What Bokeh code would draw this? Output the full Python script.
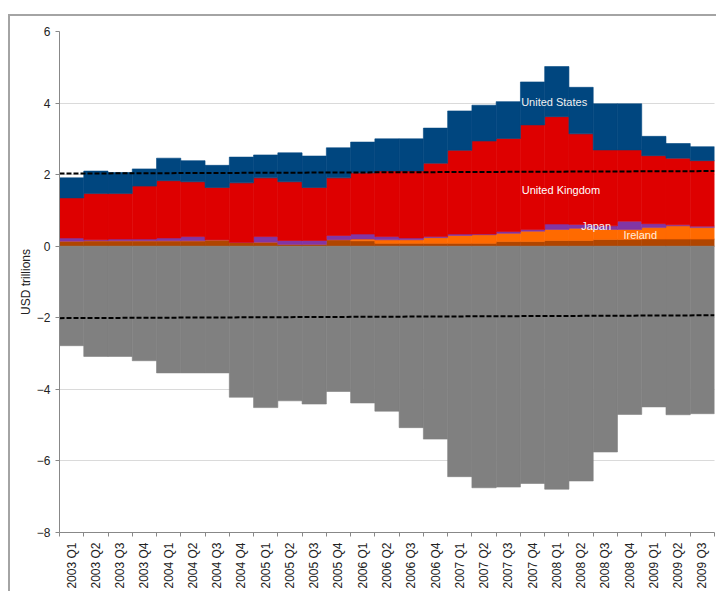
from bokeh.plotting import figure
from bokeh.models import ColumnDataSource, FixedTicker, Label, Title
from bokeh.embed import file_html
from bokeh.resources import INLINE
import math

quarters = ["2003 Q1", "2003 Q2", "2003 Q3", "2003 Q4",
            "2004 Q1", "2004 Q2", "2004 Q3", "2004 Q4",
            "2005 Q1", "2005 Q2", "2005 Q3", "2005 Q4",
            "2006 Q1", "2006 Q2", "2006 Q3", "2006 Q4",
            "2007 Q1", "2007 Q2", "2007 Q3", "2007 Q4",
            "2008 Q1", "2008 Q2", "2008 Q3", "2008 Q4",
            "2009 Q1", "2009 Q2", "2009 Q3"]

other = [0.14, 0.15, 0.15, 0.15, 0.15, 0.15, 0.17, 0.11, 0.11, 0.05, 0.05, 0.18,
         0.15, 0.08, 0.08, 0.08, 0.08, 0.08, 0.13, 0.13, 0.16, 0.16, 0.19, 0.19,
         0.20, 0.20, 0.20]
ireland = [0.00, 0.00, 0.00, 0.00, 0.00, 0.00, 0.01, 0.00, 0.00, 0.00, 0.00, 0.00,
           0.05, 0.10, 0.10, 0.16, 0.22, 0.24, 0.23, 0.29, 0.31, 0.34, 0.28, 0.28,
           0.32, 0.37, 0.32]
japan = [0.09, 0.03, 0.05, 0.05, 0.08, 0.12, 0.00, 0.00, 0.16, 0.11, 0.11, 0.12,
         0.14, 0.09, 0.05, 0.03, 0.04, 0.02, 0.05, 0.05, 0.15, 0.11, 0.10, 0.23,
         0.11, 0.03, 0.04]
uk = [1.12, 1.29, 1.27, 1.48, 1.60, 1.53, 1.46, 1.66, 1.64, 1.64, 1.48, 1.61,
      1.71, 1.83, 1.87, 2.05, 2.34, 2.60, 2.60, 2.92, 3.00, 2.53, 2.12, 1.99,
      1.90, 1.86, 1.83]
us = [0.56, 0.63, 0.59, 0.48, 0.63, 0.59, 0.62, 0.72, 0.64, 0.81, 0.88, 0.84,
      0.86, 0.90, 0.90, 0.98, 1.10, 1.00, 1.03, 1.20, 1.40, 1.30, 1.29, 1.29,
      0.54, 0.41, 0.39]
liabilities = [-2.78, -3.08, -3.08, -3.20, -3.54, -3.54, -3.54, -4.22, -4.51, -4.32,
               -4.41, -4.06, -4.38, -4.61, -5.07, -5.39, -6.44, -6.75, -6.73, -6.63,
               -6.79, -6.56, -5.75, -4.70, -4.49, -4.71, -4.68]

trend_upper = [2.03, 2.10]
trend_lower = [-2.01, -1.93]

y_ticks = [-8, -6, -4, -2, 0, 2, 4, 6]

n = len(quarters)
xs = [i + 0.5 for i in range(n)]

src = ColumnDataSource(dict(x=xs, other=other, ireland=ireland, japan=japan,
                            uk=uk, us=us, liab=liabilities))

p = figure(width=716, height=591, x_range=(0, n), y_range=(-8, 6),
           output_backend="svg", toolbar_location=None,
           min_border_left=59, min_border_right=2, min_border_top=31,
           min_border_bottom=59)
p.outline_line_color = None
p.background_fill_color = "white"
p.border_fill_color = None
p.styles = {
    "background": "linear-gradient(#a4a4a4,#a4a4a4) 8px 14px / 2px 700px no-repeat, "
                  "linear-gradient(#a4a4a4,#a4a4a4) 8px 14px / 800px 2px no-repeat, white"
}

colors = ["#B04500", "#FF6A00", "#8236A4", "#DE0000", "#00467F"]
stack = ["other", "ireland", "japan", "uk", "us"]
p.vbar_stack(stack, x="x", width=1.0, source=src, fill_color=colors,
             line_color=colors, line_width=0.6)
p.vbar(x="x", top=0, bottom="liab", width=1.0, source=src,
       fill_color="#808080", line_color="#808080", line_width=0.6)

p.line(x=[0, n], y=trend_upper, line_color="black", line_width=2, line_dash="5 2")
p.line(x=[0, n], y=trend_lower, line_color="black", line_width=2, line_dash="5 2")

# axes
font = "Liberation Sans"
p.yaxis.ticker = FixedTicker(ticks=y_ticks)
p.yaxis.major_label_text_font = font
p.yaxis.major_label_text_font_size = "12px"
p.yaxis.major_label_text_color = "#222222"
p.yaxis.axis_line_color = "#888888"
p.yaxis.major_tick_line_color = "#888888"
p.yaxis.major_tick_out = 4
p.yaxis.major_tick_in = 0
p.yaxis.minor_tick_line_color = None
p.yaxis.major_label_standoff = 5

p.xaxis.ticker = FixedTicker(ticks=xs, minor_ticks=list(range(n + 1)))
p.xaxis.major_label_overrides = {x: q for x, q in zip(xs, quarters)}
p.xaxis.major_label_orientation = math.pi / 2
p.xaxis.major_label_text_font = font
p.xaxis.major_label_text_font_size = "12px"
p.xaxis.major_label_text_color = "#222222"
p.xaxis.axis_line_color = "#888888"
p.xaxis.major_tick_line_color = None
p.xaxis.major_tick_out = 0
p.xaxis.major_tick_in = 0
p.xaxis.minor_tick_line_color = "#888888"
p.xaxis.minor_tick_out = 4
p.xaxis.minor_tick_in = 0
p.xaxis.major_label_standoff = 6

p.xgrid.visible = False
p.ygrid.ticker = FixedTicker(ticks=y_ticks)
p.ygrid.grid_line_color = "#b5b5b5"
p.ygrid.grid_line_dash = "1 1"
p.ygrid.grid_line_width = 1

p.add_layout(Title(text="USD trillions", align="center", offset=26,
                   text_font=font, text_font_size="12px", text_font_style="normal",
                   text_color="#222222", standoff=2), "left")

lab_font = "Liberation Sans Narrow, Arial Narrow, Liberation Sans"
for tx, ty, t, c in [(20.39, 4.02, "United States", "#f0f0f0"),
                     (20.67, 1.58, "United Kingdom", "#ffffff"),
                     (22.12, 0.56, "Japan", "#f4f4f4"),
                     (23.94, 0.30, "Ireland", "#ffeedd")]:
    p.add_layout(Label(x=tx, y=ty, text=t, text_align="center",
                       text_baseline="middle", text_font=lab_font,
                       text_font_size="11px", text_color=c))

open("out.html", "w").write(file_html(p, INLINE))
